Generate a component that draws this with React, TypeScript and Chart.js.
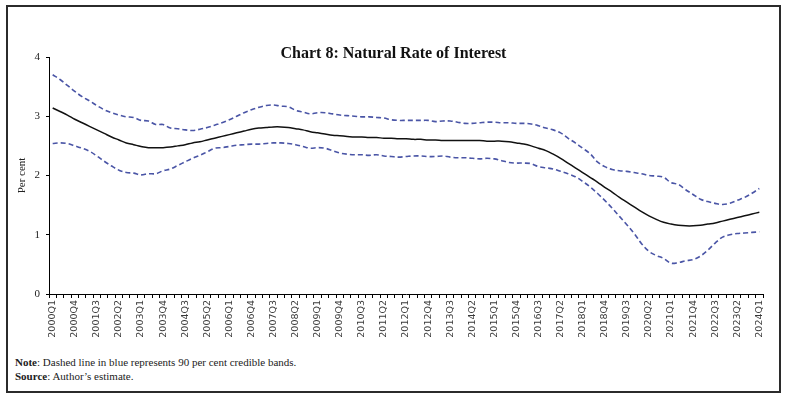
import React, { useEffect, useRef } from "react";
import { Chart, registerables } from "chart.js";

Chart.register(...registerables);

// Quarterly categories 2000Q1 .. 2024Q1
const quarters: string[] = [];
for (let y = 2000; y <= 2024; y++) {
  for (let q = 1; q <= 4; q++) {
    if (y === 2024 && q > 1) break;
    quarters.push(`${y}Q${q}`);
  }
}

const naturalRate = [
  3.14, 3.08, 3.02, 2.95, 2.89, 2.83, 2.77, 2.71, 2.65, 2.6,
  2.55, 2.52, 2.49, 2.47, 2.47, 2.47, 2.48, 2.5, 2.52, 2.55,
  2.57, 2.6, 2.63, 2.66, 2.69, 2.72, 2.75, 2.78, 2.8, 2.81,
  2.82, 2.82, 2.81, 2.79, 2.77, 2.74, 2.72, 2.7, 2.68, 2.67,
  2.66, 2.65, 2.65, 2.64, 2.64, 2.63, 2.63, 2.62, 2.62, 2.61,
  2.61, 2.6, 2.6, 2.59, 2.59, 2.59, 2.59, 2.59, 2.59, 2.58,
  2.58, 2.58, 2.57, 2.55, 2.53, 2.5, 2.46, 2.42, 2.36, 2.29,
  2.21, 2.13, 2.05, 1.97, 1.89, 1.8, 1.72, 1.63, 1.55, 1.47,
  1.39, 1.32, 1.26, 1.21, 1.18, 1.16, 1.15, 1.15, 1.16, 1.18,
  1.2, 1.23, 1.26, 1.29, 1.32, 1.35, 1.38,
];

const upperBand = [
  3.7, 3.62, 3.52, 3.42, 3.33, 3.26, 3.18, 3.11, 3.06, 3.02,
  2.99, 2.98, 2.93, 2.92, 2.86, 2.86, 2.8, 2.79, 2.77, 2.76,
  2.78, 2.81, 2.85, 2.89, 2.94, 3.0, 3.06, 3.11, 3.15, 3.18,
  3.19, 3.17, 3.16, 3.1, 3.07, 3.04, 3.06, 3.06, 3.04, 3.02,
  3.01, 3.0, 2.99, 2.99, 2.98, 2.97, 2.94, 2.93, 2.93, 2.93,
  2.93, 2.93, 2.91, 2.92, 2.92, 2.9, 2.88, 2.88, 2.89, 2.9,
  2.9, 2.89, 2.89, 2.88, 2.88, 2.87, 2.84, 2.8, 2.77, 2.72,
  2.63, 2.55, 2.46, 2.37, 2.23, 2.15, 2.1, 2.08, 2.07, 2.05,
  2.03, 2.0, 1.99, 1.97, 1.88, 1.85, 1.76, 1.68, 1.6, 1.56,
  1.53, 1.51, 1.53, 1.58, 1.63, 1.7, 1.78,
];

const lowerBand = [
  2.54, 2.55, 2.54, 2.5, 2.46, 2.41, 2.33, 2.24, 2.16, 2.09,
  2.05, 2.04, 2.01, 2.03, 2.03, 2.08, 2.11, 2.17, 2.23, 2.29,
  2.34, 2.4, 2.46, 2.47, 2.49, 2.51, 2.52, 2.53, 2.53, 2.54,
  2.55, 2.55, 2.54, 2.52, 2.49, 2.46, 2.47, 2.46, 2.42, 2.38,
  2.36, 2.35, 2.35, 2.34, 2.35, 2.33, 2.32, 2.31, 2.32, 2.33,
  2.33, 2.32, 2.32, 2.33, 2.31, 2.3, 2.3, 2.29, 2.28, 2.29,
  2.28, 2.25, 2.22, 2.21, 2.21, 2.2, 2.15, 2.13, 2.11, 2.07,
  2.03, 1.98, 1.9, 1.81, 1.7, 1.58, 1.45, 1.31, 1.17, 1.02,
  0.85, 0.72, 0.65, 0.6, 0.52, 0.53, 0.56, 0.58, 0.64, 0.74,
  0.86, 0.96, 1.0, 1.02, 1.03, 1.04, 1.05,
];

const Y_MIN = 0;
const Y_MAX = 4;
const Y_STEP = 1;
const LABEL_EVERY = 3;

const TITLE = "Chart 8: Natural Rate of Interest";
const Y_TITLE = "Per cent";

const BLUE = "#4a55a6";
const SERIF = "'Liberation Serif', 'DejaVu Serif', serif";

export default function App() {
  const ref = useRef<HTMLCanvasElement | null>(null);

  useEffect(() => {
    if (!ref.current) return;
    const chart = new Chart(ref.current, {
      type: "line",
      data: {
        labels: quarters,
        datasets: [
          {
            data: upperBand,
            borderColor: BLUE,
            borderDash: [5, 3],
            borderWidth: 1.6,
            pointRadius: 0,
            tension: 0.35,
            fill: false,
          },
          {
            data: lowerBand,
            borderColor: BLUE,
            borderDash: [5, 3],
            borderWidth: 1.6,
            pointRadius: 0,
            tension: 0.35,
            fill: false,
          },
          {
            data: naturalRate,
            borderColor: "#111",
            borderWidth: 1.5,
            pointRadius: 0,
            tension: 0.4,
            fill: false,
          },
        ],
      },
      options: {
        responsive: false,
        animation: false,
        layout: { padding: { top: 49, right: 15, left: 0, bottom: 0 } },
        plugins: {
          legend: { display: false },
          tooltip: { enabled: false },
          title: { display: false },
        },
        scales: {
          x: {
            offset: true,
            grid: {
              display: true,
              drawOnChartArea: false,
              tickLength: 4,
              color: "#000",
              offset: true,
            },
            border: { color: "#000", width: 1 },
            ticks: {
              autoSkip: false,
              maxRotation: 90,
              minRotation: 90,
              padding: 2,
              color: "#3a3a3a",
              font: { family: "'DejaVu Sans', sans-serif", size: 9.5 },
              callback: (_v: any, i: number) =>
                i % LABEL_EVERY === 0 ? quarters[i] : "",
            },
            afterFit: (s: any) => {
              s.height = 50;
            },
          },
          y: {
            min: Y_MIN,
            max: Y_MAX,
            ticks: {
              stepSize: Y_STEP,
              padding: 6,
              color: "#222",
              font: { family: SERIF, size: 11 },
            },
            grid: { drawOnChartArea: false, tickLength: 3, color: "#000" },
            border: { color: "#000", width: 1 },
            title: {
              display: true,
              text: Y_TITLE,
              color: "#222",
              font: { family: SERIF, size: 11 },
              padding: { top: 8, bottom: 0 },
            },
            afterFit: (s: any) => {
              s.width = 41;
            },
          },
        },
      },
    } as any);
    return () => chart.destroy();
  }, []);

  return (
    <div style={{ position: "absolute", left: 0, top: 0, width: 787, height: 399, background: "#fff" }}>
      <div
        style={{
          position: "absolute",
          left: 6,
          top: 5,
          width: 775,
          height: 388,
          border: "2px solid #2b2b2b",
          boxSizing: "border-box",
        }}
      />
      <canvas
        ref={ref}
        width={770}
        height={336}
        style={{ position: "absolute", left: 8, top: 8, width: 770, height: 336 }}
      />
      <div
        style={{
          position: "absolute",
          left: 0,
          top: 43,
          width: 787,
          textAlign: "center",
          fontFamily: SERIF,
          fontWeight: "bold",
          fontSize: 16,
          lineHeight: "20px",
          color: "#111",
        }}
      >
        {TITLE}
      </div>
      <div
        style={{
          position: "absolute",
          left: 15,
          top: 355,
          fontFamily: SERIF,
          fontSize: 11,
          lineHeight: "14px",
          color: "#222",
        }}
      >
        <div>
          <b>Note</b>: Dashed line in blue represents 90 per cent credible bands.
        </div>
        <div>
          <b>Source</b>: Author’s estimate.
        </div>
      </div>
    </div>
  );
}
